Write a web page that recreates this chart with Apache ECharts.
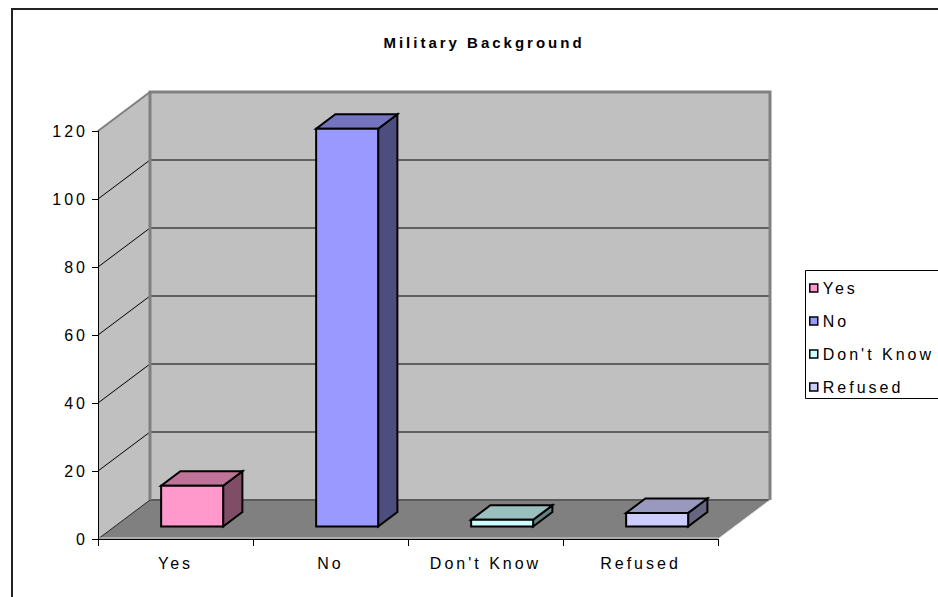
<!DOCTYPE html>
<html><head><meta charset="utf-8">
<script src="https://cdn.jsdelivr.net/npm/echarts@6/dist/echarts.min.js"></script>
<style>
html,body{margin:0;padding:0;background:#fff}
#main{width:938px;height:597px}
#main text{letter-spacing:3px}
</style>
</head><body><div id="main"></div>
<script>
const categories = ['Yes', 'No', "Don't Know", 'Refused'];
const values = [12, 117, 2, 4];
const yTicks = [0, 20, 40, 60, 80, 100, 120];
const frontColors = ['#FF99CC', '#9999FF', '#CCFFFF', '#CCCCFF'];
const topColors = ['#BF7399', '#7373BF', '#99BFBF', '#9999BF'];
const sideColors = ['#804D66', '#4D4D80', '#668080', '#666680'];

const DX = 52, DY = -39;          // depth offset of the 3D box
const F0 = 0.32, F1 = 0.69, BW = 0.4;
const FONT = '"Liberation Sans", Arial, sans-serif';

function frameRender(params, api) {
  const cs = params.coordSys;
  const x0 = cs.x, x1 = cs.x + cs.width, yt = cs.y, yb = cs.y + cs.height;
  const ch = [];
  ch.push({type: 'polygon', shape: {points: [[x0, yb], [x0, yt], [x0 + DX, yt + DY], [x0 + DX, yb + DY]]}, style: {fill: '#C0C0C0'}});
  ch.push({type: 'rect', shape: {x: x0 + DX, y: yt + DY, width: cs.width, height: cs.height}, style: {fill: '#C0C0C0'}});
  ch.push({type: 'polygon', shape: {points: [[x0, yb], [x1, yb], [x1 + DX, yb + DY], [x0 + DX, yb + DY]]}, style: {fill: '#808080'}});
  yTicks.forEach(function (v) {
    if (v === yTicks[0] || v === yTicks[yTicks.length - 1]) return;
    const y = api.coord([0, v])[1];
    ch.push({type: 'line', shape: {x1: x0 + DX, y1: y + DY, x2: x1 + DX, y2: y + DY}, style: {stroke: '#000', lineWidth: 1}});
    ch.push({type: 'line', shape: {x1: x0, y1: y, x2: x0 + DX, y2: y + DY}, style: {stroke: '#000', lineWidth: 1}});
  });
  ch.push({type: 'line', shape: {x1: x0 + DX, y1: yb + DY, x2: x1 + DX, y2: yb + DY}, style: {stroke: '#5a5a5a', lineWidth: 2}});
  ch.push({type: 'polyline', shape: {points: [[x0 + DX, yb + DY], [x0 + DX, yt + DY], [x1 + DX, yt + DY], [x1 + DX, yb + DY]]}, style: {stroke: '#808080', lineWidth: 3, fill: null}});
  ch.push({type: 'line', shape: {x1: x0, y1: yt, x2: x0 + DX, y2: yt + DY}, style: {stroke: '#808080', lineWidth: 2}});
  ch.push({type: 'line', shape: {x1: x0, y1: yb, x2: x0 + DX, y2: yb + DY}, style: {stroke: '#222', lineWidth: 1}});
  ch.push({type: 'line', shape: {x1: x1, y1: yb, x2: x1 + DX, y2: yb + DY}, style: {stroke: '#E8E8E8', lineWidth: 1}});
  ch.push({type: 'line', shape: {x1: x0, y1: yb - 1, x2: x1, y2: yb - 1}, style: {stroke: '#D8D8D8', lineWidth: 1}});
  return {type: 'group', children: ch};
}

function makeBarRender(i) {
  return function (params, api) {
    const idx = api.value(0), v = api.value(1);
    const base = api.coord([idx, 0]), top = api.coord([idx, v]);
    const band = api.size([1, 0])[0];
    const hw = band * BW / 2;
    const fx = base[0] + DX * F0;
    const fyb = base[1] + DY * F0, fyt = top[1] + DY * F0;
    const ddx = DX * (F1 - F0), ddy = DY * (F1 - F0);
    const L = fx - hw, R = fx + hw;
    const st = {stroke: '#000', lineWidth: 2, lineJoin: 'miter'};
    return {type: 'group', children: [
      {type: 'polygon', shape: {points: [[R, fyt], [R + ddx, fyt + ddy], [R + ddx, fyb + ddy], [R, fyb]]}, style: Object.assign({fill: sideColors[i]}, st)},
      {type: 'polygon', shape: {points: [[L, fyt], [R, fyt], [R + ddx, fyt + ddy], [L + ddx, fyt + ddy]]}, style: Object.assign({fill: topColors[i]}, st)},
      {type: 'rect', shape: {x: L, y: fyt, width: R - L, height: fyb - fyt}, style: Object.assign({fill: frontColors[i]}, st)}
    ]};
  };
}

const series = [{
  type: 'custom', name: '_frame', z: 1, clip: false, silent: true,
  renderItem: frameRender, data: [[categories[0], 0]], encode: {x: 0, y: 1}
}];
categories.forEach(function (c, i) {
  series.push({
    type: 'custom', name: c, z: 3, clip: false,
    itemStyle: {color: frontColors[i]},
    renderItem: makeBarRender(i),
    data: [[c, values[i]]], encode: {x: 0, y: 1}
  });
});

const chart = echarts.init(document.getElementById('main'), null, {renderer: 'svg'});
chart.setOption({
  animation: false,
  backgroundColor: '#fff',
  textStyle: {fontFamily: FONT},
  grid: {left: 98, top: 131, width: 620, height: 408, containLabel: false},
  xAxis: {
    type: 'category', data: categories, z: 10,
    axisLine: {show: true, lineStyle: {color: '#000', width: 1}},
    axisTick: {show: true, length: 7, lineStyle: {color: '#000'}},
    axisLabel: {fontSize: 16, color: '#000', margin: 16, fontFamily: FONT},
    splitLine: {show: false}
  },
  yAxis: {
    type: 'value', min: 0, max: 120, interval: 20, z: 10,
    axisLine: {show: true, lineStyle: {color: '#000', width: 1}},
    axisTick: {show: true, length: 6, lineStyle: {color: '#000'}},
    axisLabel: {fontSize: 16, color: '#000', margin: 10, fontFamily: FONT},
    splitLine: {show: false}
  },
  legend: {
    data: categories, orient: 'vertical', left: 809, top: 280, padding: 0,
    icon: 'rect', itemWidth: 8, itemHeight: 8, itemGap: 17,
    itemStyle: {borderColor: '#000', borderWidth: 1.5},
    textStyle: {fontSize: 16, color: '#000', lineHeight: 16, fontFamily: FONT},
    selectedMode: false
  },
  graphic: [
    {type: 'rect', z: -10, shape: {x: 12, y: 9, width: 1000, height: 1000}, style: {fill: null, stroke: '#222', lineWidth: 2}},
    {type: 'rect', z: -5, shape: {x: 805.5, y: 270.5, width: 200, height: 128}, style: {fill: '#fff', stroke: '#000', lineWidth: 1}},
    {type: 'text', z: 5, x: 484, y: 42, style: {text: 'Military Background', fill: '#000', font: 'bold 15px ' + FONT, textAlign: 'center', textVerticalAlign: 'middle'}}
  ],
  series: series
});
</script>
</body></html>
